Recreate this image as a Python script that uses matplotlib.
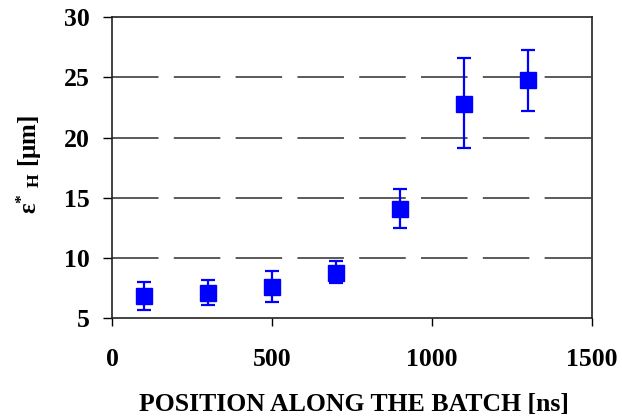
import matplotlib
matplotlib.use("Agg")
import matplotlib.pyplot as plt

# Horizontal emittance measured along the batch
position_ns = [100, 300, 500, 700, 900, 1100, 1300]
emittance_um = [6.83, 7.08, 7.57, 8.74, 14.05, 22.77, 24.74]
err_upper = [1.17, 1.07, 1.33, 0.99, 1.65, 3.85, 2.55]
err_lower = [1.17, 1.00, 1.24, 0.84, 1.55, 3.62, 2.57]

x_ticks = [0, 500, 1000, 1500]
y_ticks = [5, 10, 15, 20, 25, 30]

plt.rcParams["font.family"] = ["Liberation Serif", "DejaVu Serif"]
plt.rcParams["font.weight"] = "bold"
plt.rcParams["mathtext.fontset"] = "custom"
plt.rcParams["mathtext.rm"] = "Liberation Serif:bold"
plt.rcParams["mathtext.it"] = "Liberation Serif:bold"
plt.rcParams["mathtext.bf"] = "Liberation Serif:bold"
plt.rcParams["lines.scale_dashes"] = False

fig = plt.figure(figsize=(6.22, 4.17), dpi=100)
ax = fig.add_axes([0.180, 0.237, 0.772, 0.722])

for y in y_ticks[1:-1]:
    ax.axhline(y, color="#5a5a5a", lw=1.4, dashes=(33.5, 11), zorder=1)

ax.errorbar(position_ns, emittance_um, yerr=[err_lower, err_upper],
            fmt="s", color="#0000ff", ecolor="#0000ff", ms=11.2, elinewidth=1.6,
            capsize=4.7, capthick=1.6, zorder=3)

ax.set_xlim(0, 1500)
ax.set_ylim(5, 30)
ax.set_xticks(x_ticks)
ax.set_yticks(y_ticks)
ax.tick_params(axis="x", direction="out", length=5.8, width=1, pad=15.5, labelsize=18.5)
ax.tick_params(axis="y", direction="out", length=6.8, width=1, pad=9.0, labelsize=18.5)
for lab in ax.get_xticklabels() + ax.get_yticklabels():
    lab.set_fontweight("bold")
for s in ax.spines.values():
    s.set_linewidth(1.2)
    s.set_color("#222222")

ax.set_xlabel("POSITION ALONG THE BATCH [ns]", fontsize=18.5, fontweight="bold")
ax.xaxis.set_label_coords(0.504, -0.25)
ax.set_ylabel(r"ε$^{*}$ $_{\rm H}$ [μm]", fontsize=18, fontweight="bold")
ax.yaxis.set_label_coords(-0.142, 0.512)

fig.savefig("out.png", dpi=100)
